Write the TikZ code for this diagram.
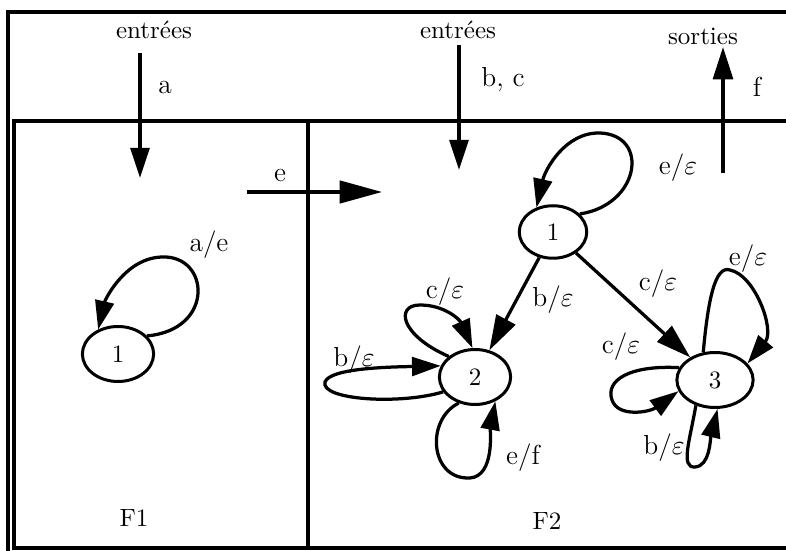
\documentclass[tikz,border=0pt]{standalone}
\usepackage{tikz}
\usetikzlibrary{arrows.meta,shapes.geometric}

\begin{document}
\begin{tikzpicture}[x=0.4pt, y=-0.4pt, line width=1.3pt,
  >={Triangle[length=11.5pt,width=7.5pt]},
  every node/.style={inner sep=0pt},
  state/.style={ellipse, draw, line width=1.2pt, minimum width=28.5pt, minimum height=22pt, font=\fontsize{10}{12}\selectfont},
  lbl/.style={font=\fontsize{11}{13}\selectfont},
  txt/.style={font=\fontsize{10}{12}\selectfont},
  bigtip/.style={-{Triangle[length=14pt,width=8.5pt]}}]
  \useasboundingbox (0,0) rectangle (786,551);

  % frame: top band, F1 and F2
  \draw (786,12) -- (8,12) -- (8,551);
  \draw (786,121) -- (14,121) -- (14,548) -- (786,548);
  \draw (308,121) -- (308,548);

  % inputs and output
  \node[txt] (entA) at (154,30) {entrées};
  \node[txt] (entB) at (458,30) {entrées};
  \node[txt] (sort) at (703,36) {sorties};
  \coordinate (inA1) at (140,53);  \coordinate (inA2) at (140,178);
  \coordinate (inB1) at (459,45);  \coordinate (inB2) at (459,170);
  \coordinate (outF1) at (723,173); \coordinate (outF2) at (723,47);
  \coordinate (evE1) at (247,192); \coordinate (evE2) at (382,192);
  \draw[-{Triangle[length=12pt,width=7.5pt]}] (inA1) -- (inA2);
  \draw[-{Triangle[length=12pt,width=7.5pt]}] (inB1) -- (inB2);
  \draw[-{Triangle[length=13pt,width=8pt]}] (outF1) -- (outF2);
  \draw[-{Triangle[length=17pt,width=9pt]}] (evE1) -- (evE2);
  \node[lbl] (la) at (165,88) {a};
  \node[lbl] (lbc) at (503,80) {b, c};
  \node[lbl] (lf) at (757,87) {f};
  \node[lbl] (le) at (280,176) {e};

  % F1
  \node[state] (f1a) at (118,354) {1};
  \draw[->] (f1a.32) .. controls (215,330) and (210,255) .. (162,257)
    .. controls (125,258) and (105,300) .. (f1a.129);
  \node[lbl] (lae) at (209,245) {a/e};
  \node[txt] (nF1) at (134,518) {F1};

  % F2
  \node[state, minimum width=27pt, minimum height=21pt] (f2a) at (553,232) {1};
  \node[state] (f2b) at (475,377) {2};
  \node[state, minimum width=30.5pt] (f2c) at (715,380) {3};
  \draw[bigtip] (f2a) -- (f2b);
  \draw[bigtip] (f2a) -- (f2c);
  \draw[->] (f2a.34) .. controls (640,205) and (650,135) .. (600,133)
    .. controls (565,132) and (545,170) .. (f2a.124);
  \draw[->] (f2b.142) .. controls (400,335) and (395,305) .. (420,305)
    .. controls (445,305) and (460,320) .. (f2b.95);
  \draw[->] (f2b.205) .. controls (400,405) and (320,400) .. (325,382)
    .. controls (330,368) and (390,367) .. (f2b.162);
  \draw[->] (f2b.238) .. controls (425,420) and (430,480) .. (470,478)
    .. controls (495,476) and (490,430) .. (f2b.310);
  \draw[->] (f2c.113) .. controls (708,300) and (715,265) .. (730,270)
    .. controls (755,275) and (775,330) .. (f2c.27);
  \draw[->] (f2c.161) .. controls (630,365) and (605,380) .. (612,400)
    .. controls (618,418) and (650,412) .. (f2c.197);
  \draw[->] (f2c.233) .. controls (690,440) and (680,468) .. (695,467)
    .. controls (710,466) and (710,440) .. (f2c.275);
  \node[lbl] (l1a) at (678,168) {e/$\varepsilon$};
  \node[lbl] (l12) at (553,300) {b/$\varepsilon$};
  \node[lbl] (l13) at (658,284) {c/$\varepsilon$};
  \node[lbl] (l2c) at (445,292) {c/$\varepsilon$};
  \node[lbl] (l2b) at (354,360) {b/$\varepsilon$};
  \node[lbl] (l2e) at (523,458) {e/f};
  \node[lbl] (l3e) at (748,259) {e/$\varepsilon$};
  \node[lbl] (l3c) at (621,347) {c/$\varepsilon$};
  \node[lbl] (l3b) at (664,448) {b/$\varepsilon$};
  \node[txt] (nF2) at (547,521) {F2};
\end{tikzpicture}
\end{document}
